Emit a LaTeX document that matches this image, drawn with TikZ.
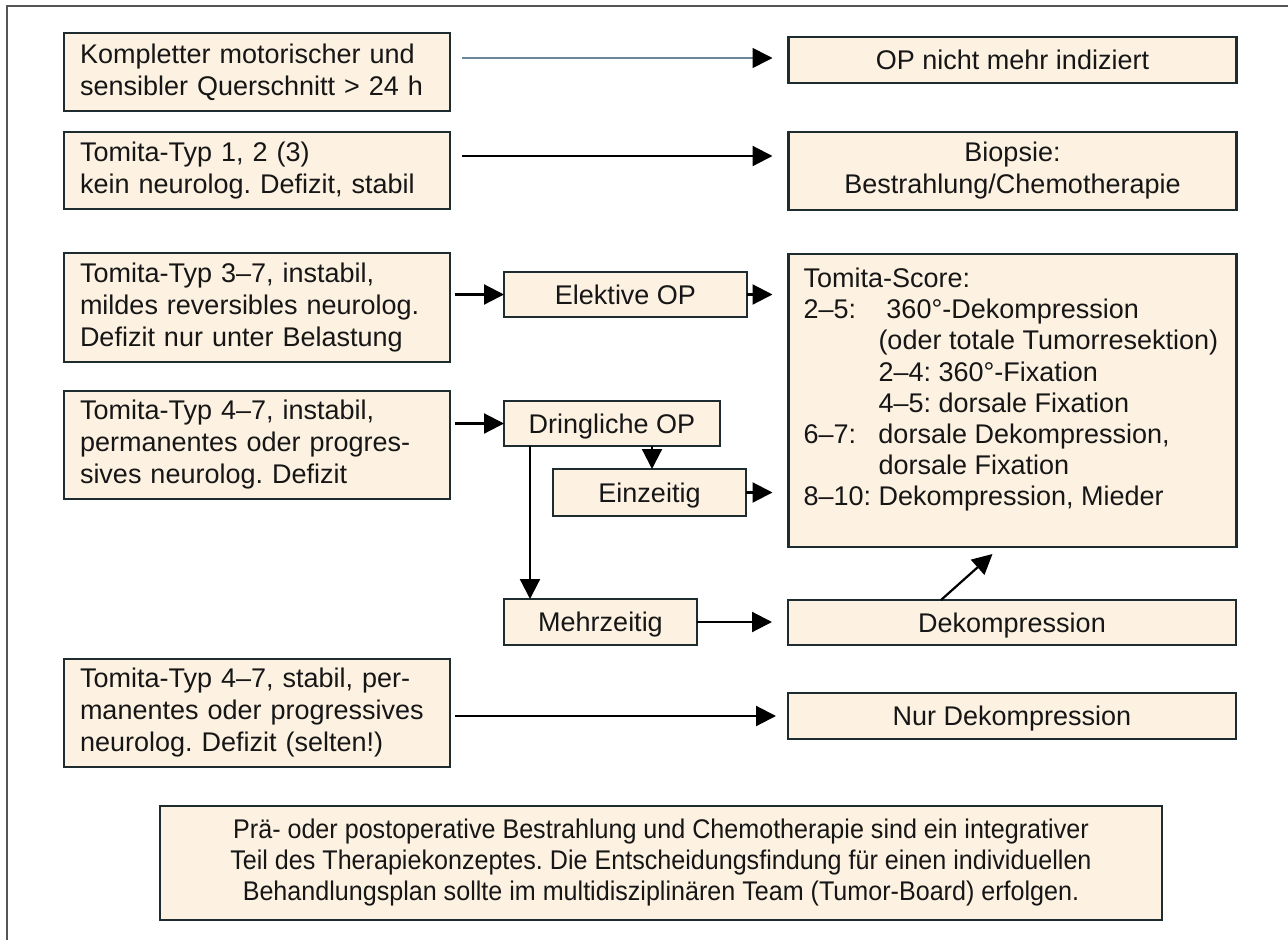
\documentclass[tikz,border=0pt]{standalone}
\usepackage{fontspec}
\setmainfont{Liberation Sans}
\newfontfamily\narrowfont[FakeStretch=0.93]{Liberation Sans}
\usetikzlibrary{arrows.meta,calc}
\definecolor{boxfill}{HTML}{FDF2E2}
\definecolor{boxline}{HTML}{1E2C30}
\definecolor{thinline}{HTML}{6A8799}
\definecolor{framecol}{HTML}{555555}
\definecolor{txt}{HTML}{161616}
\frenchspacing
\begin{document}
\begin{tikzpicture}[x=1pt,y=-1pt,
  box/.style={draw=boxline, line width=2.5pt, fill=boxfill, inner sep=0pt, outer sep=0pt,
    font=\fontsize{27}{32}\selectfont, text=txt},
  lbox/.style={box, minimum width=386pt, text width=354pt, align=left},
  rbox/.style={box, minimum width=448pt, align=center},
  single/.style={text height=19.5pt, text depth=0pt},
  arr/.style={line width=2.2pt, draw=black, -{Triangle[length=20pt,width=20pt]}},
  thinarr/.style={line width=1.6pt, draw=thinline, -{Triangle[length=20pt,width=20pt,color=black]}}
]
\useasboundingbox (0,0) rectangle (1288,940);
\draw[framecol, line width=2pt] (7,940) -- (7,6) -- (1288,6);

% left column
\node[lbox, minimum height=78pt] (b1) at (257,72) {Kompletter motorischer und\\sensibler Querschnitt > 24 h};
\node[lbox, minimum height=77pt] (b2) at (257,170.5) {Tomita-Typ 1, 2 (3)\\kein neurolog. Defizit, stabil};
\node[lbox, minimum height=109pt] (b3) at (257,307.5) {Tomita-Typ 3–7, instabil,\\mildes reversibles neurolog.\\Defizit nur unter Belastung};
\node[lbox, minimum height=108pt] (b4) at (257,445) {Tomita-Typ 4–7, instabil,\\permanentes oder progres-\\sives neurolog. Defizit};
\node[lbox, minimum height=108pt] (b5) at (257,713) {Tomita-Typ 4–7, stabil, per-\\manentes oder progressives\\neurolog. Defizit (selten!)};

% right column
\node[rbox, single, minimum height=46pt] (op) at (1012.5,60) {OP nicht mehr indiziert};
\node[rbox, minimum height=78pt] (bio) at (1012.5,171) {Biopsie:\\Bestrahlung/Chemotherapie};
\node[rbox, minimum height=293pt, font=\fontsize{27}{31.2}\selectfont] (score) at (1012.5,400.5)
  {\parbox[c][265pt][t]{418pt}{\raggedright
  Tomita-Score:\\
  \makebox[75pt][l]{2–5:}\hspace{8pt}360°-Dekompression\\
  \hspace*{75pt}(oder totale Tumorresektion)\\
  \hspace*{75pt}2–4: 360°-Fixation\\
  \hspace*{75pt}4–5: dorsale Fixation\\
  \makebox[75pt][l]{6–7:}dorsale Dekompression,\\
  \hspace*{75pt}dorsale Fixation\\
  8–10: Dekompression, Mieder}};
\node[rbox, single, minimum height=45pt] (dek) at (1012,622.5) {Dekompression};
\node[rbox, single, minimum height=46pt] (nur) at (1012,716) {Nur Dekompression};

% middle
\node[box, single, minimum width=243pt, minimum height=45pt] (el) at (625.5,294.5) {Elektive OP};
\node[box, single, minimum width=216pt, minimum height=45pt] (dr) at (612,423.5) {Dringliche OP};
\node[box, single, minimum width=193pt, minimum height=47pt] (ei) at (649.5,492.5) {Einzeitig};
\node[box, single, minimum width=193pt, minimum height=46pt] (me) at (600.5,622) {Mehrzeitig};

% bottom note
\node[box, minimum width=1002pt, minimum height=114pt, align=center,
  font=\narrowfont\fontsize{27}{31}\selectfont] (note) at (661,863)
  {Prä- oder postoperative Bestrahlung und Chemotherapie sind ein integrativer\\
   Teil des Therapiekonzeptes. Die Entscheidungsfindung für einen individuellen\\
   Behandlungsplan sollte im multidisziplinären Team (Tumor-Board) erfolgen.};

% connectors
\draw[thinarr] ($(b1.east |- op.west)+(12,-2)$) -- ($(op.west)+(-16,-2)$);
\draw[arr] ($(b2.east)+(12,-14.5)$) -- ($(bio.west |- b2.east)+(-16,-14.5)$);
\draw[arr] ($(b3.east |- el.west)+(5,0)$) -- (el.west);
\draw[arr] ($(b4.east |- dr.west)+(5,0)$) -- (dr.west);
\draw[arr] (el.east) -- ($(el.east -| score.west)+(-16,0)$);
\draw[arr] ($(dr.south west)+(148,0)$) -- ($(ei.north west)+(99,0)$);
\draw[arr] (ei.east) -- ($(ei.east -| score.west)+(-16,0)$);
\draw[arr] ($(dr.south west)+(26,0)$) -- ($(me.north west)+(26,0)$);
\draw[arr] (me.east) -- ($(me.east -| dek.west)+(-16,0)$);
\draw[arr] ($(dek.north west)+(153,0)$) -- ($(score.south west)+(204,7)$);
\draw[arr] ($(b5.east |- nur.west)+(5,0)$) -- ($(nur.west)+(-12,0)$);
\end{tikzpicture}
\end{document}
